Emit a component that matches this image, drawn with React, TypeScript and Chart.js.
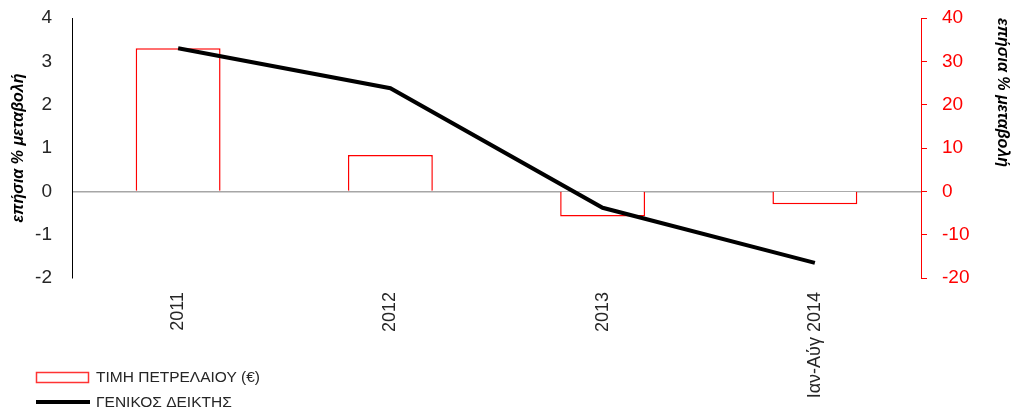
import React, { useEffect, useRef } from "react";
import { Chart, registerables } from "chart.js";

Chart.register(...registerables);

const categories = ["2011", "2012", "2013", "Ιαν-Αύγ 2014"];
const oilPrice = [33, 8.4, -5.8, -3.0];
const generalIndex = [3.3, 2.38, -0.38, -1.65];
const leftTicks = [-2, -1, 0, 1, 2, 3, 4];
const rightTicks = [-20, -10, 0, 10, 20, 30, 40];
const barLabel = "ΤΙΜΗ ΠΕΤΡΕΛΑΙΟΥ (€)";
const lineLabel = "ΓΕΝΙΚΟΣ ΔΕΙΚΤΗΣ";
const axisTitle = "επήσια % μεταβολή";

const FONT = "'Liberation Sans', Arial, sans-serif";

const legendPlugin = {
  id: "customLegend",
  afterDraw(chart: any) {
    const ctx = chart.ctx as CanvasRenderingContext2D;
    ctx.save();
    ctx.fillStyle = "#ffffff";
    ctx.fillRect(36.5, 372.5, 52, 10);
    ctx.strokeStyle = "#ff3333";
    ctx.lineWidth = 1.5;
    ctx.strokeRect(36.5, 372.5, 52, 10);
    ctx.strokeStyle = "#000000";
    ctx.lineWidth = 4;
    ctx.beginPath();
    ctx.moveTo(36, 402);
    ctx.lineTo(90, 402);
    ctx.stroke();
    ctx.fillStyle = "#262626";
    ctx.font = `15.5px ${FONT}`;
    ctx.textBaseline = "middle";
    ctx.textAlign = "left";
    ctx.fillText(barLabel, 96, 378);
    ctx.fillText(lineLabel, 96, 403);
    ctx.restore();
  },
};

export default function App() {
  const ref = useRef<HTMLCanvasElement | null>(null);

  useEffect(() => {
    if (!ref.current) return;
    const chart = new Chart(ref.current, {
      type: "bar",
      data: {
        labels: categories,
        datasets: [
          {
            type: "line",
            label: lineLabel,
            data: generalIndex,
            yAxisID: "y",
            borderColor: "#000000",
            borderWidth: 4,
            pointRadius: 0,
            tension: 0,
            order: 0,
          } as any,
          {
            type: "bar",
            label: barLabel,
            data: oilPrice,
            yAxisID: "y1",
            backgroundColor: "#ffffff",
            borderColor: "#ff0000",
            borderWidth: 1.5,
            categoryPercentage: 1,
            barPercentage: 0.4,
            order: 1,
          } as any,
        ],
      },
      options: {
        animation: false,
        responsive: true,
        maintainAspectRatio: false,
        layout: { padding: { top: 18, left: 0, right: 0, bottom: 0 } },
        plugins: {
          legend: { display: false },
          tooltip: { enabled: false },
        },
        scales: {
          x: {
            offset: true,
            grid: { display: false, drawTicks: false },
            border: { display: false },
            ticks: {
              autoSkip: false,
              maxRotation: 90,
              minRotation: 90,
              padding: 14,
              color: "#262626",
              font: { family: FONT, size: 18 },
            },
            afterFit: (s: any) => {
              s.height = 134;
            },
          },
          y: {
            position: "left",
            min: -2,
            max: 4,
            afterBuildTicks: (s: any) => {
              s.ticks = leftTicks.map((v) => ({ value: v }));
            },
            grid: {
              drawTicks: false,
              color: (c: any) => (c.tick && c.tick.value === 0 ? "#a6a6a6" : "rgba(0,0,0,0)"),
              lineWidth: 1.5,
            },
            border: { display: true, color: "#000000", width: 1 },
            ticks: {
              padding: 20,
              color: "#262626",
              font: { family: FONT, size: 19 },
            },
            title: {
              display: true,
              text: axisTitle,
              color: "#000000",
              padding: { top: 9, bottom: 0 },
              font: { family: FONT, size: 16, weight: "bold", style: "italic" },
            },
            afterFit: (s: any) => {
              s.width = 72;
              s.paddingTop = 0;
              s.paddingBottom = 0;
            },
          },
          y1: {
            position: "right",
            min: -20,
            max: 40,
            afterBuildTicks: (s: any) => {
              s.ticks = rightTicks.map((v) => ({ value: v }));
            },
            grid: {
              drawOnChartArea: false,
              drawTicks: true,
              tickLength: 6,
              color: "#ff0000",
            },
            border: { display: true, color: "#ff0000", width: 1 },
            ticks: {
              padding: 15,
              color: "#ff0000",
              font: { family: FONT, size: 19 },
            },
            title: {
              display: true,
              text: axisTitle,
              align: "end",
              color: "#000000",
              padding: { top: 0, bottom: 0 },
              font: { family: FONT, size: 16, weight: "bold", style: "italic" },
            },
            afterFit: (s: any) => {
              s.width = 91;
              s.paddingTop = 0;
              s.paddingBottom = 0;
            },
          },
        },
      },
      plugins: [legendPlugin],
    });
    return () => chart.destroy();
  }, []);

  return (
    <div style={{ position: "absolute", left: 0, top: 0, width: 1012, height: 412, background: "#fff" }}>
      <canvas ref={ref} />
    </div>
  );
}
